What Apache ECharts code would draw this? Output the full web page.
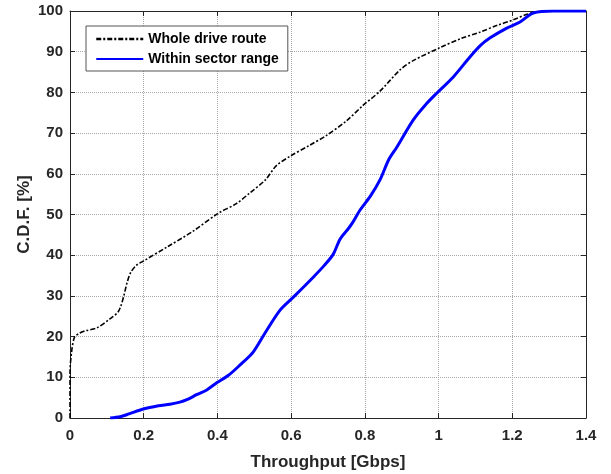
<!DOCTYPE html>
<html>
<head>
<meta charset="utf-8">
<script src="https://cdn.jsdelivr.net/npm/echarts@6/dist/echarts.min.js"></script>
<style>
  html, body { margin: 0; padding: 0; background: #fff; }
  #chart { width: 611px; height: 474px; }
</style>
</head>
<body>
<div id="chart"></div>
<script>
// Empirical CDF of throughput, two measurement sets
const wholeRouteX = [0, 0, 0.004, 0.012, 0.025, 0.041, 0.072, 0.109, 0.13, 0.138, 0.146, 0.155, 0.165, 0.18, 0.2, 0.263, 0.334, 0.402, 0.45, 0.488, 0.53, 0.56, 0.597, 0.65, 0.697, 0.75, 0.795, 0.841, 0.895, 0.931, 1.004, 1.06, 1.112, 1.16, 1.202, 1.24, 1.267, 1.3, 1.4];
const wholeRouteY = [0, 11, 16, 19.8, 20.8, 21.4, 22.1, 24.4, 26, 27.5, 30, 33.3, 35.8, 37.5, 38.6, 42.0, 45.9, 50.3, 52.6, 55.3, 58.5, 62, 64.3, 67, 69.5, 73, 76.8, 80.3, 85.5, 87.8, 91.0, 93.2, 94.8, 96.5, 97.8, 99.2, 99.8, 100, 100];

const sectorX = [0.109, 0.136, 0.16, 0.199, 0.24, 0.271, 0.298, 0.317, 0.345, 0.371, 0.399, 0.43, 0.461, 0.497, 0.53, 0.57, 0.606, 0.66, 0.69, 0.714, 0.733, 0.755, 0.768, 0.787, 0.815, 0.841, 0.865, 0.887, 0.931, 0.963, 0.995, 1.04, 1.085, 1.113, 1.14, 1.185, 1.221, 1.257, 1.311, 1.4];
const sectorY = [0, 0.3, 1.0, 2.2, 3.0, 3.4, 3.9, 4.5, 5.8, 6.9, 8.7, 10.5, 13.0, 16.2, 21, 26.5, 29.7, 34.6, 37.5, 40.2, 44.0, 46.5, 48.2, 51.1, 54.5, 58.5, 63.5, 66.6, 73.2, 76.8, 79.8, 83.8, 88.7, 91.5, 93.4, 95.8, 97.3, 99.5, 100, 100];

const seriesNames = ['Whole drive route', 'Within sector range'];
const xTicks = { min: 0, max: 1.4, step: 0.2 };
const yTicks = { min: 0, max: 100, step: 10 };

const pairs = (xs, ys) => xs.map((x, i) => [x, ys[i]]);

const FONT = '"Liberation Sans", Arial, Helvetica, sans-serif';
const AXIS_COLOR = '#262626';

const gridLine = { show: true, lineStyle: { color: '#a8a8a8', type: [1, 1], width: 1 } };

function boxAxis(extra) {
  return Object.assign({
    type: 'value',
    nameMoveOverlap: false,
    axisLine: { show: true, onZero: false, lineStyle: { color: AXIS_COLOR, width: 1 } },
    axisTick: { show: true, inside: true, length: 5, lineStyle: { color: AXIS_COLOR } },
    axisLabel: { show: false },
    splitLine: { show: false }
  }, extra);
}

const chart = echarts.init(document.getElementById('chart'), null, { renderer: 'canvas' });

chart.setOption({
  animation: false,
  backgroundColor: '#ffffff',
  grid: { left: 70, right: 25, top: 11, bottom: 56, containLabel: false, outerBoundsMode: 'none' },
  legend: {
    orient: 'vertical',
    left: 86,
    top: 26,
    padding: [6, 9, 5, 9],
    itemWidth: 47,
    itemHeight: 14,
    itemGap: 6,
    backgroundColor: '#ffffff',
    borderColor: '#555555',
    borderWidth: 1,
    borderRadius: 0,
    // line-only legend keys (no marker in the middle)
    itemStyle: { opacity: 0 },
    textStyle: { fontFamily: FONT, fontWeight: 'bold', fontSize: 14, color: '#000' },
    data: [
      { name: seriesNames[0], lineStyle: { width: 2.5, opacity: 1 } },
      { name: seriesNames[1], lineStyle: { opacity: 1 } }
    ]
  },
  xAxis: [
    boxAxis({
      position: 'bottom',
      min: xTicks.min, max: xTicks.max, interval: xTicks.step,
      name: 'Throughput [Gbps]',
      nameLocation: 'middle',
      nameGap: 36,
      nameTextStyle: { fontFamily: FONT, fontWeight: 'bold', fontSize: 17, color: AXIS_COLOR },
      axisLabel: {
        show: true, margin: 10,
        fontFamily: FONT, fontWeight: 'bold', fontSize: 15, color: AXIS_COLOR,
        formatter: v => String(+v.toFixed(1))
      },
      splitLine: gridLine
    }),
    boxAxis({ position: 'top', min: xTicks.min, max: xTicks.max, interval: xTicks.step })
  ],
  yAxis: [
    boxAxis({
      position: 'left',
      min: yTicks.min, max: yTicks.max, interval: yTicks.step,
      name: 'C.D.F. [%]',
      nameLocation: 'middle',
      nameGap: 37,
      nameTextStyle: { fontFamily: FONT, fontWeight: 'bold', fontSize: 17, color: AXIS_COLOR },
      axisLabel: {
        show: true, margin: 7,
        fontFamily: FONT, fontWeight: 'bold', fontSize: 15, color: AXIS_COLOR
      },
      splitLine: gridLine
    }),
    boxAxis({ position: 'right', min: yTicks.min, max: yTicks.max, interval: yTicks.step })
  ],
  series: [
    {
      name: seriesNames[0],
      type: 'line',
      xAxisIndex: 0, yAxisIndex: 0,
      data: pairs(wholeRouteX, wholeRouteY),
      symbol: 'none',
      smooth: 0.3,
      color: '#000000',
      lineStyle: { color: '#000000', width: 1.6, type: [5, 2, 2, 2] },
      z: 3
    },
    {
      name: seriesNames[1],
      type: 'line',
      xAxisIndex: 0, yAxisIndex: 0,
      data: pairs(sectorX, sectorY),
      symbol: 'none',
      smooth: 0.3,
      color: '#0000ff',
      lineStyle: { color: '#0000ff', width: 3 },
      z: 4
    }
  ]
});
</script>
</body>
</html>
